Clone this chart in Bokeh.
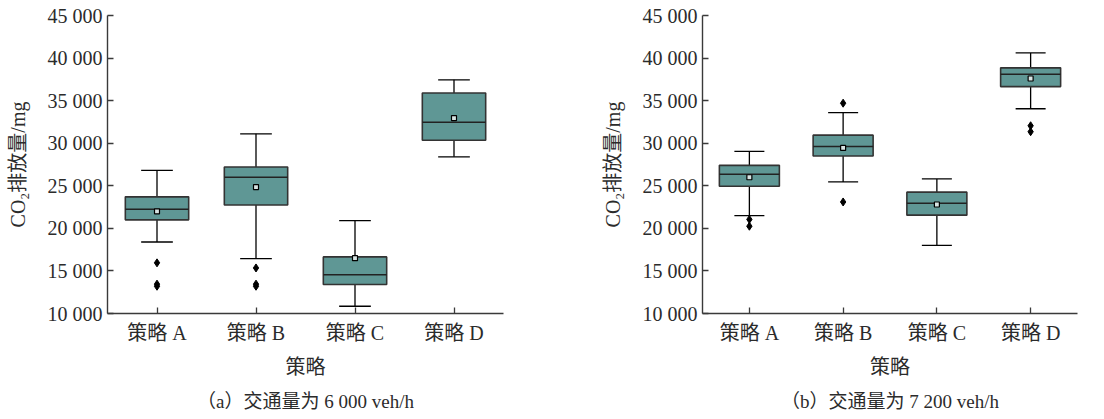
from bokeh.plotting import figure
from bokeh.layouts import row
from bokeh.models import FixedTicker, Title, FactorRange, Range1d, ColumnDataSource
from bokeh.embed import file_html
from bokeh.resources import INLINE

strategies = ["策略 A", "策略 B", "策略 C", "策略 D"]
y_ticks = [10000, 15000, 20000, 25000, 30000, 35000, 40000, 45000]
y_tick_labels = ["10 000", "15 000", "20 000", "25 000", "30 000", "35 000", "40 000", "45 000"]

# panel (a): 6 000 veh/h
a_lower = [18400, 16450, 10850, 28400]
a_q1 = [21000, 22750, 13400, 30350]
a_median = [22250, 26000, 14550, 32450]
a_q3 = [23700, 27200, 16650, 35900]
a_upper = [26800, 31100, 20900, 37450]
a_mean = [22000, 24850, 16500, 32950]
a_out_cat = ["策略 A", "策略 A", "策略 A", "策略 B", "策略 B", "策略 B"]
a_out_val = [15950, 13450, 13200, 15350, 13450, 13200]

# panel (b): 7 200 veh/h
b_lower = [21500, 25450, 18000, 34050]
b_q1 = [24950, 28500, 21550, 36650]
b_median = [26350, 29600, 22950, 38100]
b_q3 = [27400, 30950, 24250, 38850]
b_upper = [29050, 33600, 25800, 40600]
b_mean = [26000, 29450, 22800, 37600]
b_out_cat = ["策略 A", "策略 A", "策略 B", "策略 B", "策略 D", "策略 D"]
b_out_val = [21050, 20250, 34700, 23100, 32050, 31350]

FONT = '"Liberation Serif", "Noto Sans CJK SC", serif'
TEXT = "#2b2b2b"
AXIS = "#3a3a3a"
FILL = "#5f9795"
BOX_W = 0.64
CAP_H = 0.16


def make_panel(lower, q1, med, q3, upper, mean, out_cat, out_val, caption,
               width, border_left, border_right):
    p = figure(x_range=FactorRange(factors=strategies, range_padding=0),
               y_range=Range1d(10000, 45000),
               width=width, height=419,
               min_border_left=border_left, min_border_right=border_right,
               min_border_top=15, min_border_bottom=106,
               toolbar_location=None, output_backend="svg",
               background_fill_color="white", border_fill_color="white")
    src = ColumnDataSource(dict(
        cat=strategies, lower=lower, q1=q1, med=med, q3=q3, upper=upper, mean=mean,
        capl=[(c, -CAP_H) for c in strategies], capr=[(c, CAP_H) for c in strategies],
        boxl=[(c, -BOX_W / 2) for c in strategies], boxr=[(c, BOX_W / 2) for c in strategies],
    ))
    # whiskers
    p.segment(x0="cat", y0="q3", x1="cat", y1="upper", source=src, line_color="black", line_width=1.3)
    p.segment(x0="cat", y0="q1", x1="cat", y1="lower", source=src, line_color="black", line_width=1.3)
    p.segment(x0="capl", y0="upper", x1="capr", y1="upper", source=src, line_color="black", line_width=1.3)
    p.segment(x0="capl", y0="lower", x1="capr", y1="lower", source=src, line_color="black", line_width=1.3)
    # boxes
    p.vbar(x="cat", bottom="q1", top="q3", width=BOX_W, source=src,
           fill_color=FILL, line_color="#333333", line_width=1.6)
    # median
    p.segment(x0="boxl", y0="med", x1="boxr", y1="med", source=src, line_color="#222222", line_width=1.5)
    # mean
    p.scatter(x="cat", y="mean", source=src, marker="square", size=5,
              fill_color="#d8e4e3", line_color="black", line_width=1.2)
    # outliers
    p.scatter(x=out_cat, y=out_val, marker="diamond", size=8, fill_color="black", line_color="black")

    p.xgrid.visible = False
    p.ygrid.visible = False
    p.outline_line_color = None

    for ax in (p.xaxis[0], p.yaxis[0]):
        ax.axis_line_color = AXIS
        ax.axis_line_width = 1.4
        ax.major_tick_line_color = AXIS
        ax.major_tick_line_width = 1.3
        ax.major_tick_in = 6
        ax.major_tick_out = 0
        ax.minor_tick_in = 0
        ax.minor_tick_out = 0
        ax.major_label_text_font = FONT
        ax.major_label_text_font_size = "20px"
        ax.major_label_text_color = TEXT
        ax.axis_label_text_font = FONT
        ax.axis_label_text_font_size = "20px"
        ax.axis_label_text_font_style = "normal"
        ax.axis_label_text_color = TEXT

    p.yaxis.ticker = FixedTicker(ticks=y_ticks)
    p.yaxis.major_label_overrides = {t: l for t, l in zip(y_ticks, y_tick_labels)}
    p.yaxis.axis_label = "CO₂排放量/mg"
    p.yaxis.major_label_standoff = 5
    p.yaxis.axis_label_standoff = 16
    p.xaxis.axis_label = "策略"
    p.xaxis.major_label_standoff = 8
    p.xaxis.axis_label_standoff = 9

    p.add_layout(Title(text=caption, align="center", text_font=FONT, text_font_size="19px",
                       text_font_style="normal", text_color=TEXT, standoff=16), "below")
    return p


p1 = make_panel(a_lower, a_q1, a_median, a_q3, a_upper, a_mean, a_out_cat, a_out_val,
                "（a）交通量为 6 000 veh/h", 560, 107, 57)
p2 = make_panel(b_lower, b_q1, b_median, b_q3, b_upper, b_mean, b_out_cat, b_out_val,
                "（b）交通量为 7 200 veh/h", 544, 142, 27)

layout = row(p1, p2)
open("out.html", "w").write(file_html(layout, INLINE))
